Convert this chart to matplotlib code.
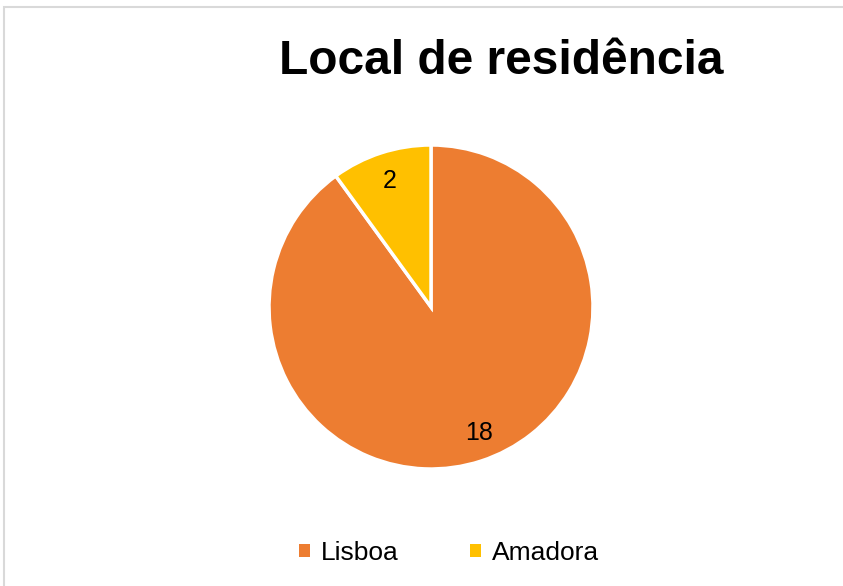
import matplotlib
matplotlib.use("Agg")
import matplotlib.pyplot as plt
from matplotlib.patches import Rectangle, Patch

categories = ["Lisboa", "Amadora"]
values = [18, 2]
colors = ["#ED7D31", "#FFC000"]
title = "Local de residência"

plt.rcParams['font.family'] = ['Liberation Sans', 'DejaVu Sans']

W, H = 843, 586
fig = plt.figure(figsize=(W/100, H/100), dpi=100)
fig.patch.set_facecolor("white")

# outer border
fig.patches.append(Rectangle((4/W, -0.05), 1.1, (H-7)/H + 0.05, transform=fig.transFigure,
                             fill=False, edgecolor="#D9D9D9", linewidth=1.5))

cx, cy, r = 431, 307, 162
ax = fig.add_axes([(cx - r)/W, (H - cy - r)/H, 2*r/W, 2*r/H])
wedges, texts = ax.pie(values, colors=colors, startangle=90, counterclock=False,
                       labels=[str(v) for v in values], labeldistance=0.82,
                       wedgeprops=dict(edgecolor="white", linewidth=2.5),
                       textprops=dict(fontsize=18, color="black", ha="center", va="center"))
ax.set_xlim(-1, 1)
ax.set_ylim(-1, 1)
ax.set_aspect("equal")
ax.axis("off")
# Excel nudges the large slice's label a little to the right
x0, y0 = texts[0].get_position()
texts[0].set_position((x0 + 0.045, y0))

fig.text(501/W, 1 - 61/H, title, ha="center", va="center", fontsize=34.5, fontweight="bold")

handles = [Patch(facecolor=c, edgecolor="none") for c in colors]
fig.legend(handles, categories, loc="center", bbox_to_anchor=(449/W, 1 - 553/H), ncol=2,
           frameon=False, fontsize=19, handlelength=0.42, handleheight=0.42,
           handletextpad=0.4, columnspacing=2.7)

fig.savefig("out.png", dpi=100)
